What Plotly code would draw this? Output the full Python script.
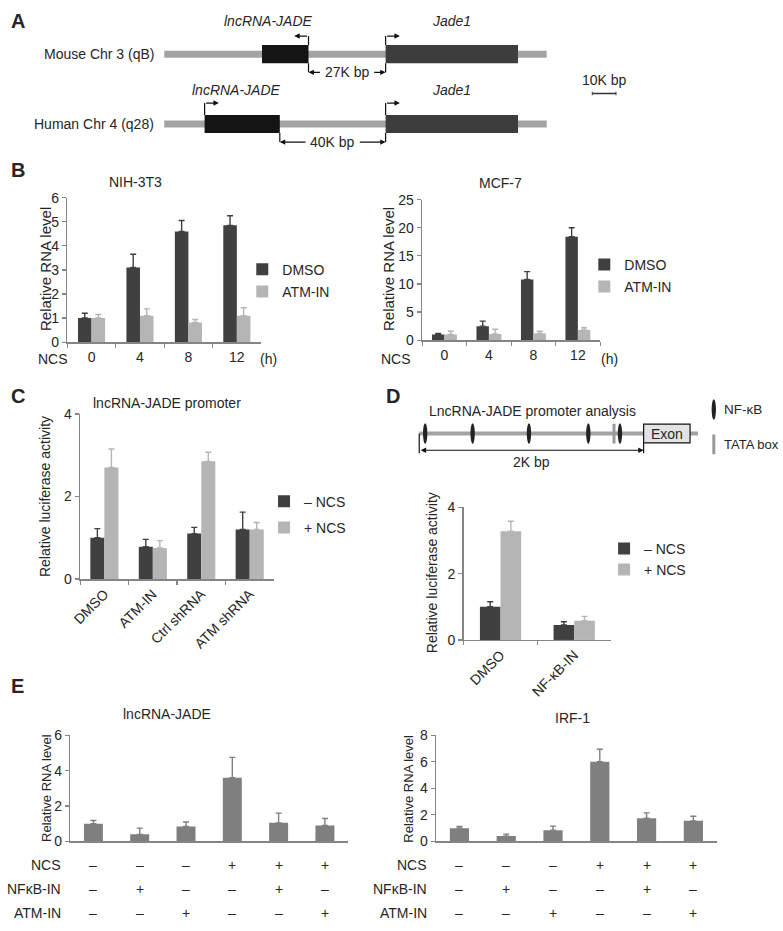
import plotly.graph_objects as go

W, H = 783, 931
FONT = "Liberation Sans, Arial, sans-serif"
TXT = "#262626"
AX = "#858585"
DARK = "#404040"
LIGHT = "#b5b5b5"
MID = "#7f7f7f"

# ---------------- Panel A data (kb, relative to Jade1 TSS) ----------------
species = ["Mouse Chr 3 (qB)", "Human Chr 4 (q28)"]
chrom_start = [-93.3, -93.3]
chrom_end = [67.9, 67.9]
lnc_start = [-52.1, -76.3]
lnc_end = [-32.5, -44.6]
lnc_strand = [-1, 1]
jade_start = [0.0, 0.0]
jade_end = [55.8, 55.8]
gap_labels = ["27K bp", "40K bp"]
scale_kb = 10

# ---------------- Panel B data ----------------
b_times = ["0", "4", "8", "12"]
b_nih_dmso = [1.0, 3.1, 4.6, 4.85]
b_nih_dmso_err = [0.2, 0.55, 0.45, 0.4]
b_nih_atm = [1.0, 1.1, 0.82, 1.1]
b_nih_atm_err = [0.15, 0.28, 0.12, 0.33]
b_mcf_dmso = [1.0, 2.5, 10.8, 18.4]
b_mcf_dmso_err = [0.2, 0.9, 1.4, 1.6]
b_mcf_atm = [1.0, 1.1, 1.2, 1.8]
b_mcf_atm_err = [0.6, 0.85, 0.4, 0.4]

# ---------------- Panel C data ----------------
c_conditions = ["DMSO", "ATM-IN", "Ctrl shRNA", "ATM shRNA"]
c_minus = [1.0, 0.78, 1.1, 1.2]
c_minus_err = [0.22, 0.18, 0.15, 0.42]
c_plus = [2.7, 0.75, 2.85, 1.2]
c_plus_err = [0.45, 0.18, 0.22, 0.17]

# ---------------- Panel D data (bp, relative to exon start) ----------------
d_nfkb_sites = [-1947, -1524, -1022, -493, -211]
d_tata_sites = [-264]
d_exon = [0, 414]
d_promoter_len = 2000
d_conditions = ["DMSO", "NF-κB-IN"]
d_minus = [1.0, 0.45]
d_minus_err = [0.15, 0.1]
d_plus = [3.28, 0.58]
d_plus_err = [0.3, 0.13]

# ---------------- Panel E data ----------------
e_ncs = ["–", "–", "–", "+", "+", "+"]
e_nfkb = ["–", "+", "–", "–", "+", "–"]
e_atm = ["–", "–", "+", "–", "–", "+"]
e_lnc = [1.0, 0.4, 0.85, 3.6, 1.05, 0.9]
e_lnc_err = [0.18, 0.35, 0.25, 1.15, 0.55, 0.4]
e_irf = [1.0, 0.4, 0.85, 6.0, 1.75, 1.55]
e_irf_err = [0.12, 0.15, 0.3, 0.95, 0.4, 0.35]


def fx(px):
    return px / W


def fy(py):
    return 1 - py / H


def xdom(a, b):
    return [a / W, b / W]


def ydom(top, bot):
    return [1 - bot / H, 1 - top / H]


fig = go.Figure()


def add_bars(xs, ys, errs, color, xa, ya, name="", legend=None, offset=None, width=0.28):
    n = len(ys)
    kw = {}
    if offset is not None:
        kw["offset"] = [offset] * n
    fig.add_trace(go.Bar(
        x=xs, y=ys, xaxis=xa, yaxis=ya, name=name,
        marker=dict(color=color, line=dict(width=0)),
        width=[width] * n,
        error_y=dict(type="data", symmetric=False, array=errs, arrayminus=[0] * n,
                     color=color, thickness=1.4, width=3),
        showlegend=legend is not None, legend=legend or "legend",
        legendgroup=(legend or "") + name,
        **kw))


# B
add_bars(b_times, b_nih_dmso, b_nih_dmso_err, DARK, "x2", "y2", "DMSO", "legend", -0.28)
add_bars(b_times, b_nih_atm, b_nih_atm_err, LIGHT, "x2", "y2", "ATM-IN", "legend", 0.0)
add_bars(b_times, b_mcf_dmso, b_mcf_dmso_err, DARK, "x3", "y3", "DMSO", "legend2", -0.28)
add_bars(b_times, b_mcf_atm, b_mcf_atm_err, LIGHT, "x3", "y3", "ATM-IN", "legend2", 0.0)
# C
add_bars(c_conditions, c_minus, c_minus_err, DARK, "x4", "y4", "– NCS", "legend3", -0.29, 0.29)
add_bars(c_conditions, c_plus, c_plus_err, LIGHT, "x4", "y4", "+ NCS", "legend3", 0.0, 0.29)
# D
add_bars(d_conditions, d_minus, d_minus_err, DARK, "x6", "y6", "– NCS", "legend4", -0.28)
add_bars(d_conditions, d_plus, d_plus_err, LIGHT, "x6", "y6", "+ NCS", "legend4", 0.0)
# E
e_x = list(range(len(e_lnc)))
add_bars(e_x, e_lnc, e_lnc_err, MID, "x7", "y7", "lncRNA-JADE", None, None, 0.41)
add_bars(e_x, e_irf, e_irf_err, MID, "x8", "y8", "IRF-1", None, None, 0.41)

tickfont = dict(size=14, color=TXT, family=FONT)
ax_common = dict(showgrid=False, zeroline=False, showline=True, linecolor=AX, linewidth=1.5,
                 ticks="outside", ticklen=4, tickwidth=1.2, tickcolor=AX, tickfont=tickfont,
                 fixedrange=True)

# pixel geometry of schematic axes
A_PX_PER_KB = 2.4
A_ORIGIN_PX = 381
A_ROW_PX = [47, 118]
A_UNIT = A_ROW_PX[1] - A_ROW_PX[0]
D_PX_PER_BP = 227 / 2000
D_ORIGIN_PX = 642
D_LINE_PX = 433

layout = dict(
    width=W, height=H, margin=dict(l=0, r=0, t=0, b=0),
    paper_bgcolor="white", plot_bgcolor="rgba(0,0,0,0)",
    font=dict(family=FONT, size=14, color=TXT),
    barmode="overlay", hovermode=False,
    xaxis=dict(domain=[0, 1], range=[(0 - A_ORIGIN_PX) / A_PX_PER_KB, (W - A_ORIGIN_PX) / A_PX_PER_KB],
               visible=False, anchor="y", fixedrange=True),
    yaxis=dict(domain=ydom(0, 150),
               range=[(A_ROW_PX[1] - 150) / A_UNIT, (A_ROW_PX[1] - 0) / A_UNIT],
               visible=False, anchor="x", fixedrange=True),
    xaxis2=dict(ax_common, domain=xdom(59, 255), type="category", range=[-0.5, 3.5],
                tickson="boundaries", anchor="y2", ticklabelstandoff=2),
    yaxis2=dict(ax_common, domain=ydom(193, 340), range=[0, 6], dtick=1, anchor="x2"),
    xaxis3=dict(ax_common, domain=xdom(418, 598), type="category", range=[-0.5, 3.5],
                tickson="boundaries", anchor="y3", ticklabelstandoff=2),
    yaxis3=dict(ax_common, domain=ydom(195, 338), range=[0, 25], dtick=5, anchor="x3"),
    xaxis4=dict(ax_common, domain=xdom(72, 268), type="category", range=[-0.5, 3.5],
                tickson="boundaries", anchor="y4", tickangle=-45),
    yaxis4=dict(ax_common, domain=ydom(413, 581), range=[0, 4], dtick=2, anchor="x4"),
    xaxis5=dict(domain=[0, 1], range=[(0 - D_ORIGIN_PX) / D_PX_PER_BP, (W - D_ORIGIN_PX) / D_PX_PER_BP],
                visible=False, anchor="y5", fixedrange=True),
    yaxis5=dict(domain=ydom(390, 475), range=[D_LINE_PX - 475, D_LINE_PX - 390],
                visible=False, anchor="x5", fixedrange=True),
    xaxis6=dict(ax_common, domain=xdom(460, 609), type="category", range=[-0.5, 1.5],
                tickson="boundaries", anchor="y6", tickangle=-45),
    yaxis6=dict(ax_common, domain=ydom(508, 643), range=[0, 4], dtick=2, anchor="x6"),
    xaxis7=dict(ax_common, domain=xdom(62, 343), range=[-0.5, 5.5], ticks="",
                showticklabels=False, anchor="y7"),
    yaxis7=dict(ax_common, domain=ydom(740, 848), range=[0, 6], dtick=2, anchor="x7"),
    xaxis8=dict(ax_common, domain=xdom(432, 716), range=[-0.5, 5.5], ticks="",
                showticklabels=False, anchor="y8"),
    yaxis8=dict(ax_common, domain=ydom(740, 848), range=[0, 8], dtick=2, anchor="x8"),
)

leg_common = dict(xanchor="left", yanchor="top", font=dict(size=14, color=TXT, family=FONT),
                  bgcolor="rgba(0,0,0,0)", traceorder="grouped", itemclick=False,
                  itemdoubleclick=False)
layout["legend"] = dict(leg_common, x=fx(236), y=fy(250), tracegroupgap=1)
layout["legend2"] = dict(leg_common, x=fx(582), y=fy(245), tracegroupgap=1)
layout["legend3"] = dict(leg_common, x=fx(258), y=fy(486), tracegroupgap=5)
layout["legend4"] = dict(leg_common, x=fx(602), y=fy(534), tracegroupgap=0)

shapes = []
ann = []


def text(x, y, s, size=14, xanchor="center", xref="paper", yref="paper", angle=0, **kw):
    ann.append(dict(x=x, y=y, text=s, xref=xref, yref=yref, showarrow=False,
                    xanchor=xanchor, yanchor="middle", textangle=angle,
                    font=dict(size=size, color=TXT, family=FONT), **kw))


def arrow(x_head, y_head, x_tail, y_tail, xref, yref, side="end"):
    ann.append(dict(x=x_head, y=y_head, ax=x_tail, ay=y_tail, xref=xref, yref=yref,
                    axref=xref, ayref=yref, text="", showarrow=True, arrowhead=2,
                    arrowsize=0.9, arrowwidth=1.2, arrowcolor="#111", standoff=0,
                    startstandoff=0, arrowside=side))


# ---------------- Panel A schematic ----------------
rows = [1, 0]
box_half = 0.13
tss_rise = [0.26, 0.30]
tss_len = 6.0
for i, r in enumerate(rows):
    shapes.append(dict(type="rect", xref="x", yref="y", x0=chrom_start[i], x1=chrom_end[i],
                       y0=r - 0.05, y1=r + 0.05, fillcolor="#a3a3a3", line_width=0, layer="below"))
    shapes.append(dict(type="rect", xref="x", yref="y", x0=lnc_start[i], x1=lnc_end[i],
                       y0=r - box_half, y1=r + box_half, fillcolor="#141414", line_width=0))
    shapes.append(dict(type="rect", xref="x", yref="y", x0=jade_start[i], x1=jade_end[i],
                       y0=r - box_half, y1=r + box_half, fillcolor="#3d3d3d", line_width=0))
    # TSS arrows
    tss = lnc_end[i] if lnc_strand[i] < 0 else lnc_start[i]
    top = r + tss_rise[i]
    shapes.append(dict(type="line", xref="x", yref="y", x0=tss, x1=tss, y0=r + box_half, y1=top,
                       line=dict(color="#111", width=1.2)))
    arrow(tss + lnc_strand[i] * tss_len, top, tss, top, "x", "y")
    shapes.append(dict(type="line", xref="x", yref="y", x0=jade_start[i], x1=jade_start[i],
                       y0=r + box_half, y1=top, line=dict(color="#111", width=1.2)))
    arrow(jade_start[i] + tss_len, top, jade_start[i], top, "x", "y")
    # gap bracket
    g0, g1 = lnc_end[i], jade_start[i]
    ybr = r - 0.26
    for g in (g0, g1):
        shapes.append(dict(type="line", xref="x", yref="y", x0=g, x1=g, y0=r - box_half, y1=ybr,
                           line=dict(color="#111", width=1.2)))
    mid = (g0 + g1) / 2
    text(mid, ybr, gap_labels[i], xref="x", yref="y")
    arrow(g0, ybr, mid - 10.8, ybr, "x", "y")
    arrow(g1, ybr, mid + 10.8, ybr, "x", "y")
    # labels
    text(chrom_start[i] - 3.7, r, species[i], xanchor="right", xref="x", yref="y")
    text((jade_start[i] + jade_end[i]) / 2, r + 0.48, "<i>Jade1</i>", xref="x", yref="y")
lnc_label_x = [-49.2, -62.9]
for i, r in enumerate(rows):
    text(lnc_label_x[i], r + 0.48, "<i>lncRNA-JADE</i>", xref="x", yref="y")

scale_x0 = 87.1
scale_y = 0.437
shapes.append(dict(type="line", xref="x", yref="y", x0=scale_x0, x1=scale_x0 + scale_kb,
                   y0=scale_y, y1=scale_y, line=dict(color="#333", width=1.3)))
for sx in (scale_x0, scale_x0 + scale_kb):
    shapes.append(dict(type="line", xref="x", yref="y", x0=sx, x1=sx,
                       y0=scale_y - 0.025, y1=scale_y + 0.025, line=dict(color="#333", width=1)))
text(scale_x0 + scale_kb / 2, 0.634, f"{scale_kb}K bp", xref="x", yref="y")

# ---------------- Panel D schematic ----------------
bp = 1 / D_PX_PER_BP  # bp per pixel
shapes.append(dict(type="line", xref="x5", yref="y5", x0=-d_promoter_len, x1=d_exon[1] + 8 * bp,
                   y0=0, y1=0, line=dict(color="#a3a3a3", width=4), layer="below"))
for s in d_tata_sites:
    shapes.append(dict(type="rect", xref="x5", yref="y5", x0=s - 1.5 * bp, x1=s + 1.5 * bp,
                       y0=-10, y1=10, fillcolor="#999999", line_width=0))
for s in d_nfkb_sites:
    shapes.append(dict(type="circle", xref="x5", yref="y5", x0=s - 2.2 * bp, x1=s + 2.2 * bp,
                       y0=-10.5, y1=10.5, fillcolor="#222", line_width=0))
shapes.append(dict(type="rect", xref="x5", yref="y5", x0=d_exon[0], x1=d_exon[1],
                   y0=-9.5, y1=9.5, fillcolor="#e3e3e3", line=dict(color="#111", width=1.2)))
text((d_exon[0] + d_exon[1]) / 2, 0, "Exon", xref="x5", yref="y5")
shapes.append(dict(type="line", xref="x5", yref="y5", x0=-d_promoter_len, x1=-d_promoter_len,
                   y0=0, y1=-20, line=dict(color="#111", width=1.2)))
shapes.append(dict(type="line", xref="x5", yref="y5", x0=0, x1=0,
                   y0=-9.5, y1=-20, line=dict(color="#111", width=1.2)))
arrow(0, -17, -d_promoter_len, -17, "x5", "y5", side="end+start")
text(-d_promoter_len / 2, -29, f"{d_promoter_len // 1000}K bp", xref="x5", yref="y5")
# diagram key
key_x = 71 * bp
shapes.append(dict(type="circle", xref="x5", yref="y5", x0=key_x - 2.2 * bp, x1=key_x + 2.2 * bp,
                   y0=14, y1=35, fillcolor="#222", line_width=0))
shapes.append(dict(type="rect", xref="x5", yref="y5", x0=key_x - 1.5 * bp, x1=key_x + 1.5 * bp,
                   y0=-21, y1=-1, fillcolor="#999999", line_width=0))
text(key_x + 8 * bp, 24, "NF-κB", size=13.5, xanchor="left", xref="x5", yref="y5")
text(key_x + 8 * bp, -11, "TATA box", size=13, xanchor="left", xref="x5", yref="y5")

# ---------------- titles / labels ----------------
for lbl, (px, py) in {"A": (9, 13), "B": (9, 165), "C": (9, 395), "D": (388, 395), "E": (9, 690)}.items():
    text(fx(px), fy(py), f"<b>{lbl}</b>", size=20)

text(fx(128), fy(177), "NIH-3T3")
text(fx(497), fy(178), "MCF-7")
text(fx(160), fy(402), "lncRNA-JADE promoter")
text(fx(530), fy(410), "LncRNA-JADE promoter analysis")
text(fx(160), fy(718), "lncRNA-JADE")
text(fx(570), fy(722), "IRF-1")

text(fx(37), fy(266), "Relative RNA level", size=15, angle=-90)
text(fx(384), fy(266), "Relative RNA level", size=15, angle=-90)
text(fx(37), fy(497), "Relative luciferase activity", angle=-90)
text(fx(428), fy(575), "Relative luciferase activity", angle=-90)
text(fx(38), fy(794), "Relative RNA level", size=13, angle=-90)
text(fx(404), fy(794), "Relative RNA level", size=13, angle=-90)

# NCS time row for B
text(fx(62), fy(357), "NCS", xanchor="right")
text(fx(263), fy(357), "(h)")
text(fx(409), fy(357), "NCS", xanchor="right")
text(fx(607), fy(357), "(h)")

# treatment matrix for E
row_names = ["NCS", "NFκB-IN", "ATM-IN"]
row_vals = [e_ncs, e_nfkb, e_atm]
row_py = [872, 896, 921]
for xa, label_px in (("x7", 55), ("x8", 425)):
    for name, vals, py in zip(row_names, row_vals, row_py):
        text(fx(label_px), fy(py), name, xanchor="right")
        for j, v in enumerate(vals):
            text(j, fy(py), v, xref=xa)

layout["shapes"] = shapes
layout["annotations"] = ann
fig.update_layout(**layout)
fig.write_html("out.html", config={"displayModeBar": False, "staticPlot": True},
               post_script="document.body.style.margin='0px';")
